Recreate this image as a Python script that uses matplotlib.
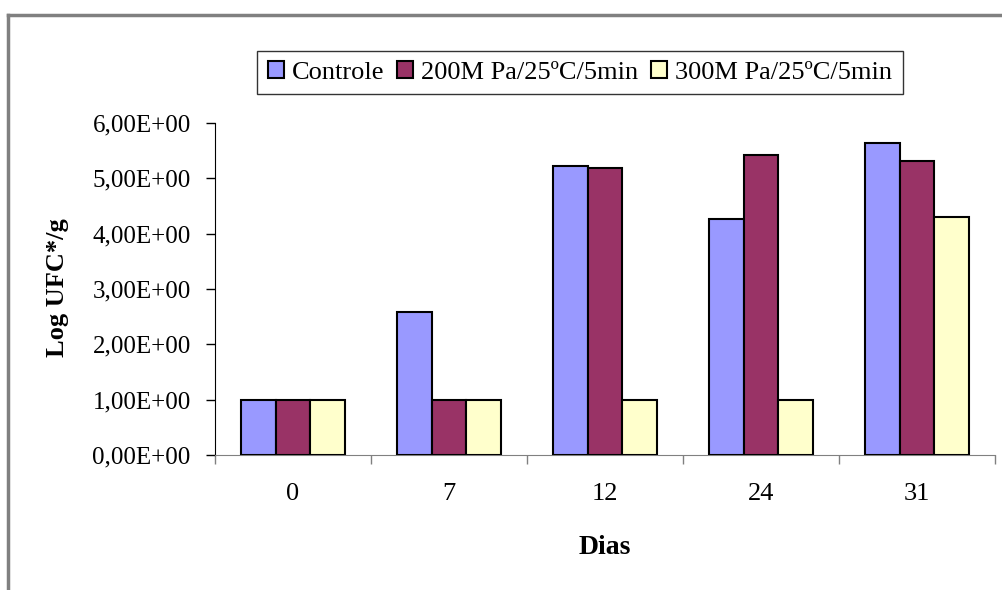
import matplotlib
matplotlib.use("Agg")
import matplotlib.pyplot as plt
import numpy as np
from matplotlib.patches import Patch
from matplotlib.lines import Line2D

# dados
dias = ['0', '7', '12', '24', '31']
series = ['Controle', '200M Pa/25ºC/5min', '300M Pa/25ºC/5min']
controle = [1.00, 2.59, 5.23, 4.26, 5.63]
pa200 = [1.00, 1.00, 5.19, 5.43, 5.31]
pa300 = [1.00, 1.00, 1.00, 1.00, 4.30]
cores = ['#9999FF', '#993366', '#FFFFCC']

plt.rcParams['font.family'] = ['Liberation Serif', 'DejaVu Serif']

fig = plt.figure(figsize=(10.03, 5.90), dpi=100)
ax = fig.add_axes([215 / 1003, 1 - 455 / 590, 780 / 1003, 332 / 590])

x = np.arange(len(dias))
w = 1 / 4.5  # gap width 150% como no Excel
for i, (vals, cor) in enumerate(zip([controle, pa200, pa300], cores)):
    ax.bar(x + (i - 1) * w, vals, width=w, color=cor, edgecolor='black',
           linewidth=1.5, label=series[i], zorder=3)

ax.set_xlim(-0.5, len(dias) - 0.5)
ax.set_ylim(0, 6)
ax.set_yticks(np.arange(0, 7, 1))
ax.set_yticklabels(['%d,00E+00' % v for v in range(7)], fontsize=18)
ax.tick_params(axis='y', direction='out', length=6.5, width=1, pad=11)

# ticks do eixo x entre as categorias, rótulos no centro
ax.set_xticks(np.arange(-0.5, len(dias), 1))
ax.set_xticklabels([])
ax.set_xticks(x, minor=True)
ax.set_xticklabels(dias, minor=True, fontsize=19)
ax.tick_params(axis='x', which='major', direction='out', length=6.5, width=1, color='#808080')
ax.tick_params(axis='x', which='minor', length=0, pad=20)

ax.spines['top'].set_visible(False)
ax.spines['right'].set_visible(False)
ax.spines['left'].set_color('black')
ax.spines['bottom'].set_color('#808080')

fig.text(58 / 1003, 1 - 288 / 590, 'Log UFC*/g', rotation=90, ha='center', va='center',
         fontsize=19, fontweight='bold')
fig.text(605 / 1003, 1 - 547 / 590, 'Dias', ha='center', va='center',
         fontsize=20, fontweight='bold')

handles = [Patch(facecolor=c, edgecolor='black', linewidth=1.5) for c in cores]
leg = fig.legend(handles, series, loc='center', bbox_to_anchor=(580 / 1003, 1 - 72.5 / 590),
                 ncol=3, fontsize=19, frameon=True, fancybox=False, handlelength=0.6,
                 handleheight=0.6, handletextpad=0.3, columnspacing=0.5, borderpad=0.4)
leg.get_frame().set_edgecolor('black')
leg.get_frame().set_linewidth(1)

# moldura cinza do gráfico
fig.add_artist(Line2D([8 / 1003, 1], [1 - 15 / 590, 1 - 15 / 590], color='#808080', linewidth=2.5))
fig.add_artist(Line2D([8 / 1003, 8 / 1003], [0, 1 - 15 / 590], color='#808080', linewidth=2.5))

fig.savefig('out.png', dpi=100)
